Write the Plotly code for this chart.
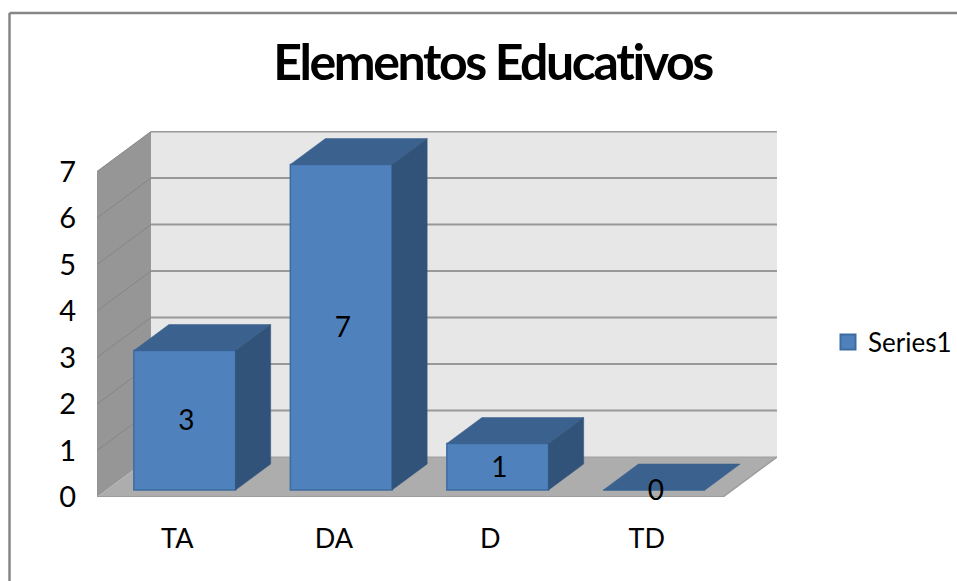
import plotly.graph_objects as go

categories = ["TA", "DA", "D", "TD"]
values = [3, 7, 1, 0]
series_name = "Series1"
y_ticks = [0, 1, 2, 3, 4, 5, 6, 7]
title_text = "Elementos Educativos"

# oblique projection of the 3D box, in axis units
DX, DY = 0.345, 0.86
FRONT, BACK = 0.175, 0.825
BAR_W = 0.65
YMAX = y_ticks[-1]
NCAT = len(categories)
LABEL_DX, LABEL_DY = 0.01, -0.06
TICK_DX = 0.013

FRONT_C = "#4f81bd"
EDGE_C = "#3d6c9f"
TOP_C = "#3b618f"
SIDE_C = "#315379"
FONT = "Lato"

fig = go.Figure()
shapes = []


def poly(pts, fill, line=None, width=0):
    path = "M" + " L".join(f"{x},{y}" for x, y in pts) + " Z"
    shapes.append(dict(type="path", path=path, xref="x", yref="y", fillcolor=fill,
                       line=dict(color=line or fill, width=width), layer="below"))


def seg(p, q, color, width):
    shapes.append(dict(type="line", x0=p[0], y0=p[1], x1=q[0], y1=q[1], xref="x", yref="y",
                       line=dict(color=color, width=width), layer="below"))


# walls and floor
poly([(0, 0), (DX, DY), (DX, YMAX + DY), (0, YMAX)], "#969696")
poly([(DX, DY), (NCAT + DX, DY), (NCAT + DX, YMAX + DY), (DX, YMAX + DY)], "#e7e7e7")
poly([(0, 0), (NCAT, 0), (NCAT + DX, DY), (DX, DY)], "#adadad")
for t in y_ticks:
    if t > 0:
        seg((0, t), (DX, t + DY), "#858585", 1)
        seg((DX, t + DY), (NCAT + DX, t + DY), "#999999", 2)
seg((0, 0), (NCAT, 0), "#9c9c9c", 2)
seg((NCAT, 0), (NCAT + DX, DY), "#9c9c9c", 1.5)
seg((DX, DY), (NCAT + DX, DY), "#a0a0a0", 1)


# chart frame
def px(x, y):
    return dict(x=(x - 97) / 680, y=(497 - y) / 366)


for a, b in [((9.5, 581), (9.5, 13)), ((9.5, 13), (957, 13))]:
    shapes.append(dict(type="line", xref="paper", yref="paper",
                       x0=px(*a)["x"], y0=px(*a)["y"], x1=px(*b)["x"], y1=px(*b)["y"],
                       line=dict(color="#868686", width=2.5), layer="below"))

centers = [i + 0.5 + FRONT * DX for i in range(NCAT)]
base = FRONT * DY

fig.add_trace(go.Bar(x=centers, y=values, base=base, width=BAR_W, name=series_name,
                     legendgroup=series_name, showlegend=False,
                     marker=dict(color=FRONT_C, line=dict(color=EDGE_C, width=1.5)),
                     hoverinfo="skip"))
# legend swatch of the bar series, larger than the one bars get by default
fig.add_trace(go.Scatter(x=[None], y=[None], mode="markers", name=series_name,
                         legendgroup=series_name,
                         marker=dict(symbol="square", size=15, color=FRONT_C,
                                     line=dict(color=EDGE_C, width=2))))

for c, v in zip(centers, values):
    l, r = c - BAR_W / 2, c + BAR_W / 2
    bx, by = (BACK - FRONT) * DX, (BACK - FRONT) * DY
    t = base + v
    top_x = [l, r, r + bx, l + bx, l]
    top_y = [t, t, t + by, t + by, t]
    fig.add_trace(go.Scatter(x=top_x, y=top_y, fill="toself", fillcolor=TOP_C, mode="lines",
                             line=dict(color=TOP_C, width=0.5), showlegend=False, hoverinfo="skip"))
    if v > 0:
        side_x = [r, r + bx, r + bx, r, r]
        side_y = [base, base + by, t + by, t, base]
        fig.add_trace(go.Scatter(x=side_x, y=side_y, fill="toself", fillcolor=SIDE_C, mode="lines",
                                 line=dict(color=SIDE_C, width=0.5), showlegend=False, hoverinfo="skip"))

fig.add_trace(go.Scatter(x=[c + LABEL_DX for c in centers],
                         y=[base + v / 2 + LABEL_DY for v in values], mode="text",
                         text=[str(v) for v in values], textposition="middle center",
                         textfont=dict(family=FONT, size=28, color="#000000"),
                         showlegend=False, hoverinfo="skip", cliponaxis=False))

fig.update_layout(
    width=957, height=581, autosize=False,
    margin=dict(l=97, r=180, t=131, b=84, pad=0, autoexpand=False),
    paper_bgcolor="#ffffff", plot_bgcolor="#ffffff",
    font=dict(family=FONT, size=27, color="#000000"),
    shapes=shapes,
    showlegend=True,
    title=dict(text=title_text, x=492.5 / 957, xanchor="center", y=1 - 62 / 581, yanchor="middle",
               font=dict(family=FONT, size=50, color="#000000", weight="bold")),
    legend=dict(x=(828 - 97) / 680, y=(497 - 342) / 366, xanchor="left", yanchor="middle",
                font=dict(family=FONT, size=26), itemwidth=30, bgcolor="rgba(0,0,0,0)",
                tracegroupgap=0),
    xaxis=dict(range=[0, 680 / 156.5], tickmode="array",
               tickvals=[i + 0.5 + TICK_DX for i in range(NCAT)], ticktext=categories,
               showgrid=False, zeroline=False, showline=False, ticks="", ticklabelstandoff=23,
               fixedrange=True),
    yaxis=dict(range=[0, 366 / 46.5], tickmode="array", tickvals=y_ticks,
               ticktext=[str(t) for t in y_ticks], tickfont=dict(size=29),
               showgrid=False, zeroline=False, showline=False, ticks="", ticklabelstandoff=20,
               fixedrange=True),
)

post = """
document.body.style.margin = '0';
var t = document.querySelector('.gtitle');
if (t) { t.style.letterSpacing = '-2.4px'; }
"""
fig.write_html("out.html", config=dict(displayModeBar=False), post_script=post)
